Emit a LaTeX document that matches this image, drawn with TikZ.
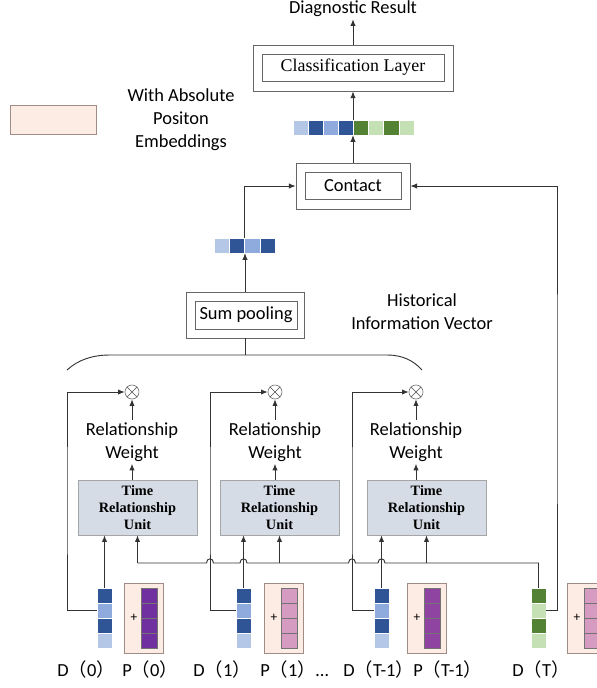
\documentclass[tikz,border=0pt]{standalone}
\usepackage{fontspec}
\setmainfont{Carlito}
\newfontfamily\serifrm{Liberation Serif}
\newfontfamily\cjkfont{Noto Sans CJK SC}
\usetikzlibrary{arrows.meta,positioning}
\newcommand{\pxu}{0.0265cm}
\newcommand{\cjklp}{{\cjkfont （}}
\newcommand{\cjkrp}{{\cjkfont ）}}
\definecolor{dblue}{HTML}{2F5597}
\definecolor{mblue}{HTML}{8FAADC}
\definecolor{lblue}{HTML}{B4C7E7}
\definecolor{dgreen}{HTML}{548235}
\definecolor{lgreen}{HTML}{C5E0B4}
\definecolor{pdark}{HTML}{7030A0}
\definecolor{pmid}{HTML}{8E44A0}
\definecolor{ppink}{HTML}{D59BC0}
\definecolor{pinkbg}{HTML}{FDECE3}
\definecolor{pinkline}{HTML}{A08C86}
\definecolor{trufill}{HTML}{D6DCE5}
\definecolor{trudraw}{HTML}{A6A6A6}
\begin{document}
\begin{tikzpicture}[x=\pxu, y=-\pxu,
    txt/.style={align=center, font=\fontsize{13.9}{17.3}\selectfont, inner sep=1.5pt},
    boxout/.style={rectangle, draw=black!60, line width=0.6pt, minimum width=#1*\pxu, minimum height=46*\pxu},
    inframe/.style={rectangle, draw=black!60, line width=0.6pt, minimum width=#1*\pxu, minimum height=27*\pxu, inner sep=0pt},
    tru/.style={rectangle, draw=trudraw, fill=trufill, minimum width=119*\pxu, minimum height=55*\pxu, align=center, inner sep=0pt, font=\serifrm\bfseries\fontsize{10.8}{13}\selectfont},
    mult/.style={circle, draw=black!55, line width=0.5pt, minimum size=14*\pxu, inner sep=0pt},
    cell/.style={rectangle, minimum width=15.2*\pxu, minimum height=15*\pxu, inner sep=0pt, draw=white, line width=0.2pt},
    pcell/.style={rectangle, minimum width=16*\pxu, minimum height=15*\pxu, inner sep=0pt, draw=black!55, line width=0.4pt},
    pbox/.style={rectangle, draw=pinkline, fill=pinkbg, line width=0.6pt, minimum width=39*\pxu, minimum height=70*\pxu},
    lbl/.style={anchor=west, inner sep=0pt, font=\fontsize{13.9}{17}\selectfont},
    wire/.style={draw=black!80, line width=0.7pt},
    arr/.style={wire, -{Latex[length=5pt,width=4pt]}}
]
\useasboundingbox (0,0) rectangle (597,688);
\clip (0,0) rectangle (597,688);

\node[txt] (diag) at (353,9) {Diagnostic Result};
\node[boxout=200] (cls) at (353,68) {};
\node[inframe=182, font=\serifrm\fontsize{13.5}{16}\selectfont] (clsin) at (353,67.5) {Classification Layer};
\foreach \k/\c in {1/lblue,2/dblue,3/mblue,4/dblue,5/dgreen,6/lgreen,7/dgreen,8/lgreen}
  \node[cell, fill=\c] (cat\k) at (285.45+15.1*\k,127.5) {};
\node[boxout=114] (con) at (353,186) {};
\node[txt, inframe=96] (conin) at (353,186) {Contact};
\foreach \k/\c in {1/lblue,2/dblue,3/mblue,4/dblue}
  \node[cell, fill=\c] (sv\k) at (206.4+15.25*\k,245.5) {};
\node[boxout=118] (sum) at (245,315) {};
\node[txt, inframe=102, minimum height=28*\pxu] (sumin) at (246,315) {Sum pooling};

\node[rectangle, draw=pinkline, fill=pinkbg, line width=0.6pt, minimum width=86*\pxu, minimum height=29*\pxu] (legend) at (53,119.5) {};
\node[txt] (legtxt) at (181,120) {With Absolute\\Positon\\Embeddings};
\node[txt] (hist) at (422,312) {Historical\\Information Vector};

\coordinate (brl) at (67,370);
\coordinate (brtop) at (245,355);
\coordinate (brr) at (422,370);
\draw[wire] (brl) .. controls (78,360) and (92,355) .. (110,355) -- (387,355) .. controls (403,355) and (414,361) .. (brr);
\draw[wire] (sum.south) -- (brtop);

\foreach \n/\mx/\tx/\lx/\dx/\pcx/\pc in {0/132/137.5/67/104.5/143.5/pdark, 1/275/279.5/210/243.5/283.5/ppink, 2/416/426.5/352/381.5/426.5/pmid}{
  \node[mult] (m\n) at (\mx,392) {};
  \draw[draw=black!70, line width=0.5pt] (m\n.north west) -- (m\n.south east) (m\n.north east) -- (m\n.south west);
  \node[txt] (rw\n) at (\mx,442) {Relationship\\Weight};
  \node[tru] (tru\n) at (\tx,507.5) {Time\\Relationship\\Unit};
  \foreach \k/\c in {1/dblue,2/mblue,3/dblue,4/lblue}
    \node[cell, fill=\c] (d\n-\k) at (\dx,580.5+15*\k) {};
  \node[pbox] (p\n) at (\pcx,618) {};
  \foreach \k in {1,...,4}
    \node[pcell, fill=\pc] (p\n-\k) at (\pcx+5.5,580.5+15*\k) {};
  \node[font=\fontsize{10}{12}\selectfont, inner sep=0pt] (plus\n) at (\pcx-9.5,618) {+};
  \draw[arr] (rw\n.north) -- (m\n.south);
  \draw[arr] (rw\n.south |- tru\n.north) -- (rw\n.south);
  \draw[arr] (d\n-1.north) -- (d\n-1.north |- tru\n.south);
  \draw[arr] (d\n-2.west) -| (\lx,500) |- (m\n.west);
}

\foreach \k/\c in {1/dgreen,2/lgreen,3/dgreen,4/lgreen}
  \node[cell, fill=\c] (dT-\k) at (538.5,580.5+15*\k) {};
\node[pbox] (pT) at (586.5,618) {};
\foreach \k in {1,...,4}
  \node[pcell, fill=ppink] (pT-\k) at (592,580.5+15*\k) {};
\node[font=\fontsize{10}{12}\selectfont, inner sep=0pt] (plusT) at (577,618) {+};

\coordinate (bus) at (0,563);
\draw[wire] (dT-1.north) -- (dT-1.north |- bus)
  \foreach \x in {381.5,352,243.5,210} { -- (\x+3.5,563) .. controls (\x+3.5,557.5) and (\x-3.5,557.5) .. (\x-3.5,563) }
  -- (tru0.south |- bus);
\foreach \n in {0,1,2}
  \draw[arr] (tru\n.south |- bus) -- (tru\n.south);
\draw[arr] (dT-2.east) -| (557,400) |- (con.east);

\draw[arr] (sum.north) -- (sum.north |- sv1.south);
\draw[arr] (sv2.north east) |- (con.west);
\draw[arr] (con.north) -- (con.north |- cat1.south);
\draw[arr] (cls.south |- cat1.north) -- (cls.south);
\draw[arr] (cls.north) -- (diag.south);

\foreach \n/\x/\t in {d0/57/D\cjklp 0\cjkrp, p0/122/P\cjklp 0\cjkrp, d1/193/D\cjklp 1\cjkrp, p1/260/P\cjklp 1\cjkrp\dots, d2/343/D\cjklp T-1\cjkrp, p2/413/P\cjklp T-1\cjkrp, dT/512/D\cjklp T\cjkrp}
  \node[lbl] (l\n) at (\x,669) {\t};
\end{tikzpicture}
\end{document}
